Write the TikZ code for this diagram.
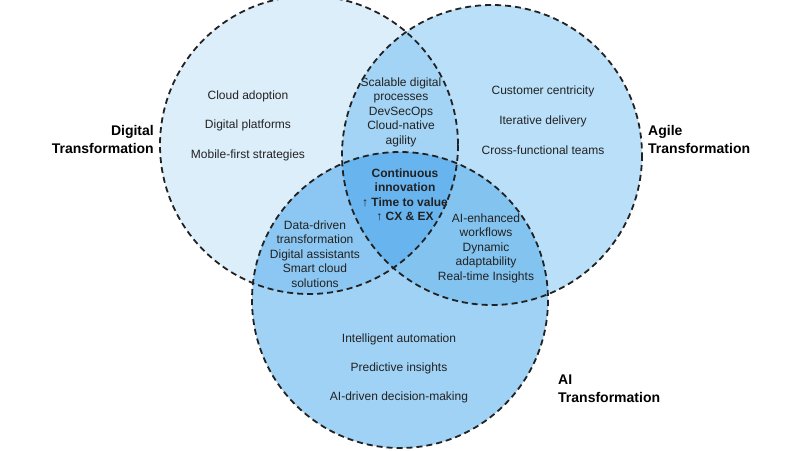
\documentclass[tikz,border=0pt]{standalone}
\usepackage{fontspec}
\setmainfont{Liberation Sans}
\definecolor{cD}{HTML}{DDEEFB}
\definecolor{cA}{HTML}{B9DFF9}
\definecolor{cAI}{HTML}{A0D2F5}
\definecolor{cDA}{HTML}{A3D4F5}
\definecolor{cDAI}{HTML}{8BC7F2}
\definecolor{cAAI}{HTML}{82C3F0}
\definecolor{cMid}{HTML}{67B4EE}
\definecolor{txt}{HTML}{222222}
\tikzset{
  ring/.style={draw=txt, line width=1.8pt, dash pattern=on 6pt off 4pt},
  item/.style={font=\fontsize{12}{14.5}\selectfont, text=txt, align=center, inner sep=0pt},
  title/.style={font=\fontsize{14}{18}\selectfont\bfseries, text=black, inner sep=0pt},
  core/.style={font=\fontsize{12}{14.5}\selectfont\bfseries, text=txt, align=center, inner sep=0pt}
}
\begin{document}
\begin{tikzpicture}[x=1pt,y=-1pt]
\useasboundingbox (0,0) rectangle (800,450);
\fill[white] (0,0) rectangle (800,450);
\def\circD{(309,145) circle[radius=149]}
\def\circA{(492,155) circle[radius=150]}
\def\circI{(400,300) circle[radius=148]}
% fills
\fill[cD] \circD;
\fill[cA] \circA;
\begin{scope}\clip \circA; \fill[cDA] \circD; \end{scope}
\fill[cAI] \circI;
\begin{scope}\clip \circI; \fill[cDAI] \circD; \fill[cAAI] \circA;
  \clip \circA; \fill[cMid] \circD; \end{scope}
% outlines
\draw[ring] \circD;
\draw[ring] \circA;
\draw[ring] \circI;
% titles
\node[title, align=right, anchor=east] (tD) at (154,139) {Digital\\Transformation};
\node[title, align=left, anchor=west] (tA) at (648,139) {Agile\\Transformation};
\node[title, align=left, anchor=west] (tI) at (558,389) {AI\\Transformation};
% digital only
\node[item] (d1) at (248,96) {Cloud adoption};
\node[item] (d2) at (248,125) {Digital platforms};
\node[item] (d3) at (248,155) {Mobile-first strategies};
% agile only
\node[item] (a1) at (543,91) {Customer centricity};
\node[item] (a2) at (543,121) {Iterative delivery};
\node[item] (a3) at (543,150) {Cross-functional teams};
% AI only
\node[item] (i1) at (399,339) {Intelligent automation};
\node[item] (i2) at (399,368) {Predictive insights};
\node[item] (i3) at (399,397) {AI-driven decision-making};
% overlaps
\node[item] (da) at (401,112) {Scalable digital\\processes\\DevSecOps\\Cloud-native\\agility};
\node[item] (di) at (315,254) {Data-driven\\transformation\\Digital assistants\\Smart cloud\\solutions};
\node[item] (ai) at (486,248) {AI-enhanced\\workflows\\Dynamic\\adaptability\\Real-time Insights};
\node[core] (mid) at (405,195) {Continuous\\innovation\\↑ Time to value\\↑ CX \& EX};
\end{tikzpicture}
\end{document}
